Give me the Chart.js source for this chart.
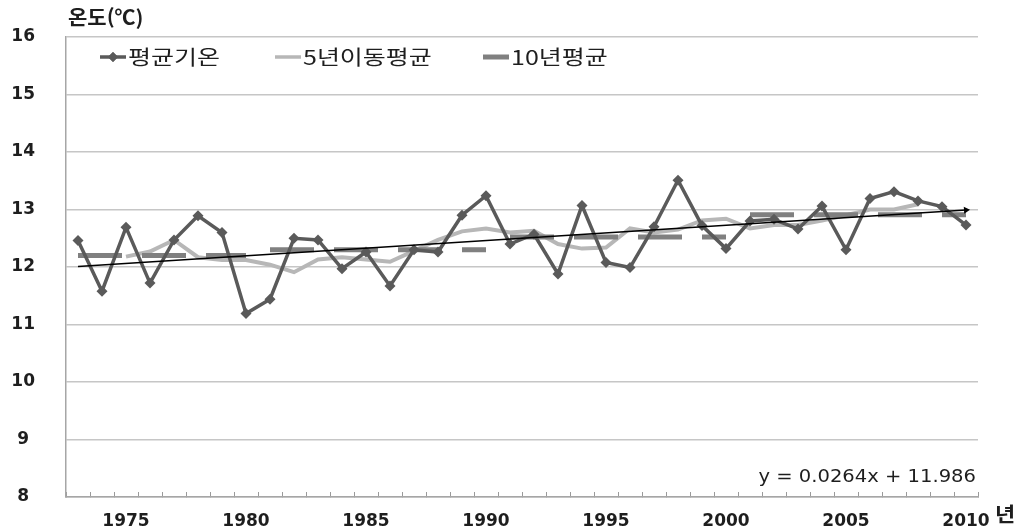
<!DOCTYPE html>
<html lang="ko">
<head>
<meta charset="utf-8">
<title>연평균기온 변화</title>
<script src="https://cdn.jsdelivr.net/npm/chart.js@4.4.1/dist/chart.umd.min.js"></script>
<style>
  html, body { margin: 0; padding: 0; background: #fff; }
  #wrap { width: 1029px; height: 529px; }
</style>
</head>
<body>
<div id="wrap"><canvas id="chartTemp"></canvas></div>
<script>
'use strict';

/* Données */
const years = [1973, 1974, 1975, 1976, 1977, 1978, 1979, 1980, 1981, 1982,
               1983, 1984, 1985, 1986, 1987, 1988, 1989, 1990, 1991, 1992,
               1993, 1994, 1995, 1996, 1997, 1998, 1999, 2000, 2001, 2002,
               2003, 2004, 2005, 2006, 2007, 2008, 2009, 2010];

// 평균기온
const avgTemp = [12.46, 11.58, 12.69, 11.72, 12.47, 12.89, 12.60, 11.19, 11.44, 12.50,
                 12.47, 11.97, 12.26, 11.67, 12.30, 12.26, 12.90, 13.24, 12.40, 12.57,
                 11.88, 13.07, 12.08, 11.99, 12.70, 13.51, 12.72, 12.32, 12.80, 12.83,
                 12.66, 13.06, 12.30, 13.19, 13.31, 13.15, 13.05, 12.73];

// 5년이동평균
const moving5 = [null, null, 12.18, 12.27, 12.47, 12.17, 12.12, 12.12, 12.04, 11.91,
                 12.13, 12.17, 12.13, 12.09, 12.28, 12.47, 12.62, 12.67, 12.60, 12.63,
                 12.40, 12.32, 12.34, 12.67, 12.60, 12.65, 12.81, 12.84, 12.67, 12.73,
                 12.73, 12.81, 12.90, 13.00, 13.00, 13.09, null, null];

// 10년평균 (début de chaque période et valeur)
const decadeStart = [1973, 1981, 1991, 2001];
const decadeAvg = [12.20, 12.30, 12.52, 12.91];

// droite de tendance y = 0.0264x + 11.986 (extrémités lues)
const trendStart = 12.01;
const trendEnd = 12.99;

const yTicks = [8, 9, 10, 11, 12, 13, 14, 15, 16];

/* Tables construites à partir des tableaux */
const decade10 = years.map(y => {
    let v = null;
    decadeStart.forEach((s, k) => { if (y >= s) v = decadeAvg[k]; });
    return v;
});
const trendLine = years.map((y, i) => i === 0 ? trendStart : (i === years.length - 1 ? trendEnd : null));

const FONT_NUM = "'DejaVu Sans', 'Noto Sans CJK KR', sans-serif";
const FONT_KR = "'Noto Sans CJK KR', 'DejaVu Sans', sans-serif";

const COLOR_AVG = '#5a5a5a';
const COLOR_MA5 = '#b7b7b7';
const COLOR_10 = '#808080';

// texte étiré horizontalement (les polices de l'original sont larges)
function drawWideText(ctx, text, x, y, stretch, align) {
    ctx.save();
    ctx.translate(x, y);
    ctx.scale(stretch, 1);
    ctx.textAlign = align;
    ctx.fillText(text, 0, 0);
    ctx.restore();
}

// légende + textes libres dessinés à la main
const annotations = {
    id: 'annotations',
    afterDraw(chart) {
        const ctx = chart.ctx;
        ctx.save();
        ctx.fillStyle = '#1e1e1e';
        ctx.textBaseline = 'middle';

        ctx.font = "bold 20px " + FONT_KR;
        drawWideText(ctx, '온도(℃)', 68, 17, 1.05, 'left');
        drawWideText(ctx, '년', 995, 514, 1.1, 'left');

        ctx.font = "17px " + FONT_NUM;
        drawWideText(ctx, 'y = 0.0264x + 11.986', 976, 478, 1.15, 'right');

        const items = [
            { ds: 1, x: 100, marker: true },
            { ds: 3, x: 275, marker: false },
            { ds: 2, x: 483, marker: false }
        ];
        const ly = 57;
        items.forEach(it => {
            const ds = chart.data.datasets[it.ds];
            ctx.strokeStyle = ds.borderColor;
            ctx.lineWidth = it.ds === 2 ? 5 : 3.5;
            ctx.setLineDash([]);
            ctx.beginPath();
            ctx.moveTo(it.x, ly);
            ctx.lineTo(it.x + 26, ly);
            ctx.stroke();
            if (it.marker) {
                ctx.fillStyle = ds.borderColor;
                Chart.helpers.drawPoint(ctx, { pointStyle: 'rectRot', radius: 5, rotation: 0, borderWidth: 0 }, it.x + 13, ly);
                ctx.fill();
            }
            ctx.fillStyle = '#1e1e1e';
            ctx.font = "20px " + FONT_KR;
            drawWideText(ctx, ds.label, it.x + 28, ly, 1.25, 'left');
        });
        ctx.restore();
    }
};

new Chart(document.getElementById('chartTemp'), {
    type: 'line',
    data: {
        labels: years.map(String),
        datasets: [
            {
                label: '추세선',
                data: trendLine,
                borderColor: '#000000',
                borderWidth: 1.5,
                spanGaps: true,
                pointStyle: 'triangle',
                rotation: 86,
                pointRadius: trendLine.map((v, i) => i === trendLine.length - 1 ? 4 : 0),
                pointBackgroundColor: '#000000',
                pointBorderWidth: 0
            },
            {
                label: '평균기온',
                data: avgTemp,
                borderColor: COLOR_AVG,
                backgroundColor: COLOR_AVG,
                borderWidth: 3.5,
                pointStyle: 'rectRot',
                pointRadius: 5.5,
                pointBorderWidth: 0,
                tension: 0
            },
            {
                label: '10년평균',
                data: decade10,
                borderColor: COLOR_10,
                borderWidth: 5,
                borderDash: [44, 20],
                pointRadius: 0,
                segment: {
                    borderColor: c => c.p0.parsed.y !== c.p1.parsed.y ? 'rgba(0,0,0,0)' : undefined
                }
            },
            {
                label: '5년이동평균',
                data: moving5,
                borderColor: COLOR_MA5,
                borderWidth: 4,
                pointRadius: 0,
                tension: 0
            }
        ]
    },
    options: {
        responsive: true,
        maintainAspectRatio: false,
        animation: false,
        layout: { padding: { top: 37, right: 51, left: 0, bottom: 0 } },
        plugins: {
            legend: { display: false },
            tooltip: { enabled: false },
            title: { display: false }
        },
        scales: {
            x: {
                offset: true,
                grid: {
                    display: true,
                    drawOnChartArea: false,
                    offset: true,
                    tickLength: -5,
                    tickColor: '#9a9a9a',
                    tickWidth: 1
                },
                border: { display: true, color: '#a6a6a6', width: 1.5 },
                ticks: {
                    autoSkip: false,
                    maxRotation: 0,
                    minRotation: 0,
                    padding: 19,
                    color: '#1e1e1e',
                    font: { family: FONT_NUM, size: 17, weight: 'bold' },
                    callback: function(val, i) {
                        return years[i] % 5 === 0 ? String(years[i]) : '';
                    }
                },
                afterFit: s => { s.height = 32; }
            },
            y: {
                min: yTicks[0],
                max: yTicks[yTicks.length - 1],
                afterBuildTicks: s => { s.ticks = yTicks.map(v => ({ value: v })); },
                grid: { color: '#c6c6c6', lineWidth: 1.5, drawTicks: false },
                border: { display: true, color: '#a6a6a6', width: 1.5 },
                ticks: {
                    padding: 31,
                    crossAlign: 'center',
                    color: '#1e1e1e',
                    font: { family: FONT_NUM, size: 17, weight: 'bold' }
                },
                // le padding des libellés ne doit pas rétrécir la zone du graphique
                afterFit: s => { s.width = 66; s.paddingTop = 10; s.paddingBottom = 10; }
            }
        }
    },
    plugins: [annotations]
});
</script>
</body>
</html>
